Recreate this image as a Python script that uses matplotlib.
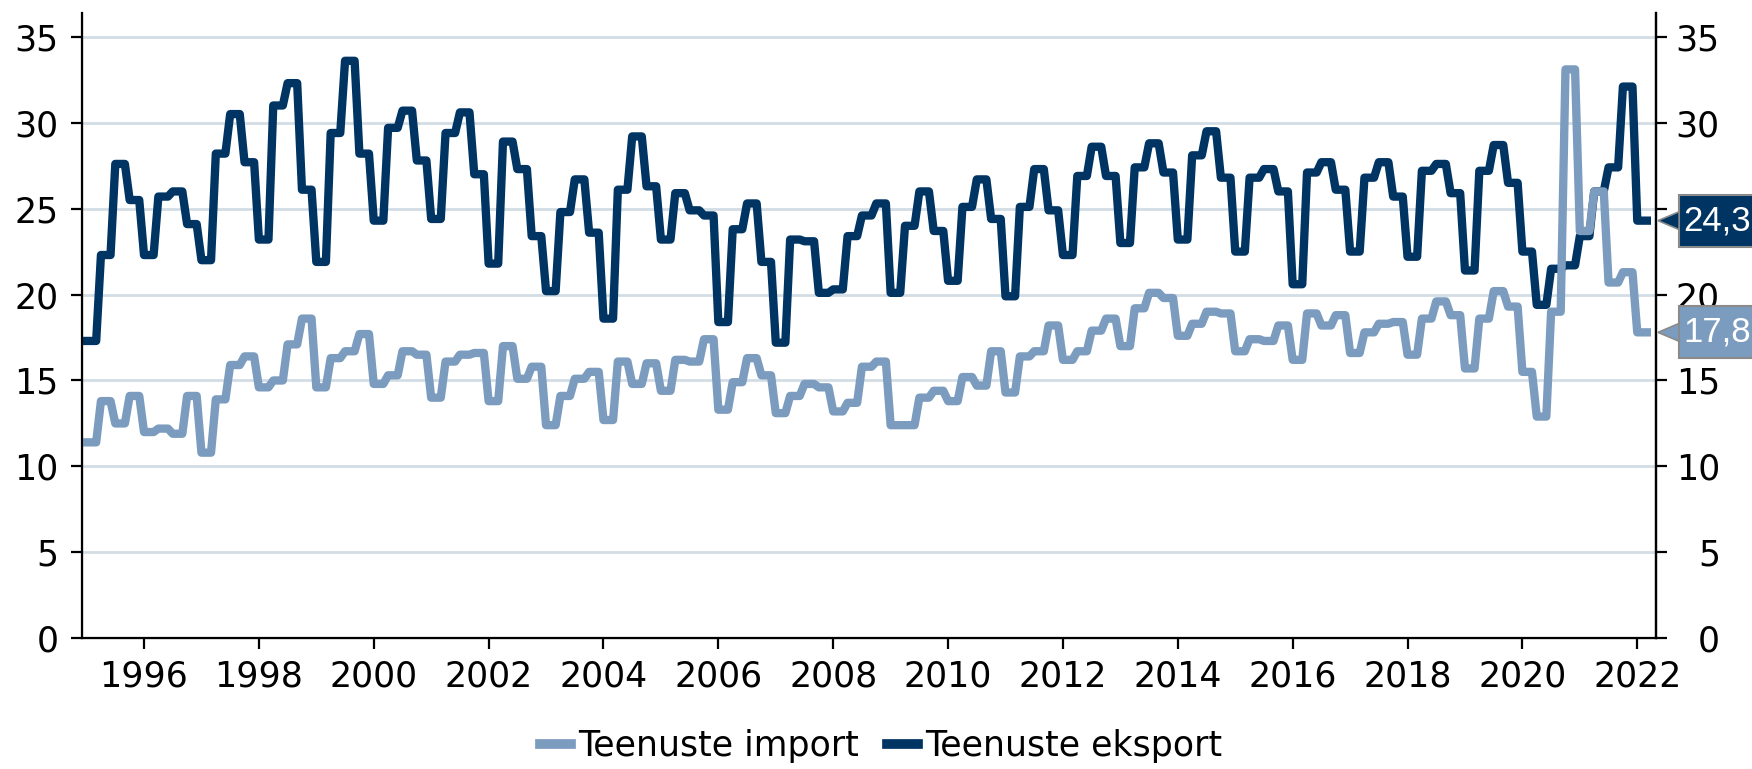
import numpy as np
import matplotlib

matplotlib.use("Agg")
import matplotlib.pyplot as plt
from matplotlib.patches import Polygon, Rectangle
from matplotlib.transforms import blended_transform_factory

# quarterly values, 1995 Q1 ... 2022 Q1
EKSPORT = [
    17.3, 22.3, 27.6, 25.5,  # 1995
    22.3, 25.7, 26.0, 24.1,  # 1996
    22.0, 28.2, 30.5, 27.7,  # 1997
    23.2, 31.0, 32.3, 26.1,  # 1998
    21.9, 29.4, 33.6, 28.2,  # 1999
    24.3, 29.7, 30.7, 27.8,  # 2000
    24.4, 29.4, 30.6, 27.0,  # 2001
    21.8, 28.9, 27.3, 23.4,  # 2002
    20.2, 24.8, 26.7, 23.6,  # 2003
    18.6, 26.1, 29.2, 26.3,  # 2004
    23.2, 25.9, 24.9, 24.6,  # 2005
    18.4, 23.8, 25.3, 21.9,  # 2006
    17.2, 23.2, 23.1, 20.1,  # 2007
    20.3, 23.4, 24.6, 25.3,  # 2008
    20.1, 24.0, 26.0, 23.7,  # 2009
    20.8, 25.1, 26.7, 24.4,  # 2010
    19.9, 25.1, 27.3, 24.9,  # 2011
    22.3, 26.9, 28.6, 26.9,  # 2012
    23.0, 27.4, 28.8, 27.1,  # 2013
    23.2, 28.1, 29.5, 26.8,  # 2014
    22.5, 26.8, 27.3, 26.0,  # 2015
    20.6, 27.1, 27.7, 26.1,  # 2016
    22.5, 26.8, 27.7, 25.7,  # 2017
    22.2, 27.2, 27.6, 25.9,  # 2018
    21.4, 27.2, 28.7, 26.5,  # 2019
    22.5, 19.4, 21.5, 21.7,  # 2020
    23.4, 26.0, 27.4, 32.1,  # 2021
    24.3,                    # 2022
]
IMPORT = [
    11.4, 13.8, 12.5, 14.1,  # 1995
    12.0, 12.2, 11.9, 14.1,  # 1996
    10.8, 13.9, 15.9, 16.4,  # 1997
    14.6, 15.0, 17.1, 18.6,  # 1998
    14.6, 16.3, 16.7, 17.7,  # 1999
    14.8, 15.3, 16.7, 16.5,  # 2000
    14.0, 16.1, 16.5, 16.6,  # 2001
    13.8, 17.0, 15.1, 15.8,  # 2002
    12.4, 14.1, 15.1, 15.5,  # 2003
    12.7, 16.1, 14.8, 16.0,  # 2004
    14.4, 16.2, 16.1, 17.4,  # 2005
    13.3, 14.9, 16.3, 15.3,  # 2006
    13.1, 14.1, 14.8, 14.6,  # 2007
    13.2, 13.7, 15.8, 16.1,  # 2008
    12.4, 12.4, 14.0, 14.4,  # 2009
    13.8, 15.2, 14.7, 16.7,  # 2010
    14.3, 16.4, 16.7, 18.2,  # 2011
    16.2, 16.7, 17.9, 18.6,  # 2012
    17.0, 19.2, 20.1, 19.8,  # 2013
    17.6, 18.3, 19.0, 18.9,  # 2014
    16.7, 17.4, 17.3, 18.2,  # 2015
    16.2, 18.9, 18.2, 18.8,  # 2016
    16.6, 17.8, 18.3, 18.4,  # 2017
    16.5, 18.6, 19.6, 18.8,  # 2018
    15.7, 18.6, 20.2, 19.3,  # 2019
    15.5, 12.9, 19.0, 33.1,  # 2020
    23.7, 26.0, 20.7, 21.3,  # 2021
    17.8,                    # 2022
]
START_YEAR = 1995
LABEL_IMPORT = "Teenuste import"
LABEL_EKSPORT = "Teenuste eksport"
YEAR_TICKS = list(range(1996, 2023, 2))
Y_TICKS = [0, 5, 10, 15, 20, 25, 30, 35]

EKSPORT_C = "#003463"
IMPORT_C = "#7B9CBF"
GRID_C = "#D3DDE5"
EDGE_C = "#8a8a8a"
FS = 25


def main() -> None:
    plt.rcParams["font.family"] = ["DejaVu Sans"]

    # monthly points, each quarter shown for its three months
    n_months = len(EKSPORT) * 3
    x = START_YEAR + np.arange(n_months) / 12
    eks = np.repeat(EKSPORT, 3)
    imp = np.repeat(IMPORT, 3)

    fig = plt.figure(figsize=(17.52, 7.69), dpi=100)
    ax = fig.add_axes([0.047, 0.170, 0.8982, 0.8126])

    ax.plot(x, eks, color=EKSPORT_C, lw=6, solid_joinstyle="round",
            label=LABEL_EKSPORT, zorder=3)
    ax.plot(x, imp, color=IMPORT_C, lw=6, solid_joinstyle="round",
            label=LABEL_IMPORT, zorder=4)

    ax.set_xlim(1994.926, 2022.326)
    ax.set_ylim(0, 36.36)
    ax.set_xticks(YEAR_TICKS)
    ax.set_xticklabels([str(y) for y in YEAR_TICKS])
    ax.set_yticks(Y_TICKS)
    ax.grid(axis="y", color=GRID_C, lw=2)
    ax.set_axisbelow(True)
    for s in ("left", "right", "bottom"):
        ax.spines[s].set_linewidth(1.6)
    ax.spines["top"].set_visible(False)
    ax.tick_params(axis="both", labelsize=FS, length=8, width=1.6,
                   direction="out")
    ax.tick_params(axis="y", pad=9)
    ax.tick_params(axis="x", pad=7)

    ax2 = ax.twinx()
    ax2.set_ylim(ax.get_ylim())
    ax2.set_yticks(Y_TICKS)
    ax2.spines["top"].set_visible(False)
    ax2.spines["right"].set_linewidth(1.6)
    ax2.tick_params(axis="y", labelsize=FS, length=8, width=1.6, pad=38)
    for lab in ax2.get_yticklabels():
        lab.set_ha("right")

    # end-value labels on the right (box runs off the figure edge,
    # drawn on the twin axes so it covers the right tick labels)
    tr = blended_transform_factory(ax2.transAxes, ax2.transData)
    for vals, col in ((EKSPORT, EKSPORT_C), (IMPORT, IMPORT_C)):
        v = vals[-1]
        ax2.add_patch(Rectangle((1.0145, v - 1.51), 0.06, 3.02,
                                transform=tr, fc=col, ec=EDGE_C, lw=1.5,
                                clip_on=False, zorder=5))
        ax2.add_patch(Polygon([(1.0013, v), (1.0147, v + 0.52),
                               (1.0147, v - 0.52)], closed=True,
                              transform=tr, fc=col, ec=EDGE_C, lw=1.2,
                              clip_on=False, zorder=6))
        ax2.text(1.0175, v, f"{v:.1f}".replace(".", ","), transform=tr,
                 color="white", fontsize=25, family=["Liberation Sans"],
                 ha="left", va="center", zorder=7, clip_on=False)

    h, l = ax.get_legend_handles_labels()
    leg = fig.legend(h[::-1], l[::-1], loc="center",
                     bbox_to_anchor=(0.503, 0.03), ncol=2, frameon=False,
                     fontsize=FS, handlelength=0.9, handletextpad=0.2,
                     columnspacing=0.8)
    for line in leg.get_lines():
        line.set_linewidth(7)

    fig.savefig("out.png", dpi=100)


if __name__ == "__main__":
    main()
